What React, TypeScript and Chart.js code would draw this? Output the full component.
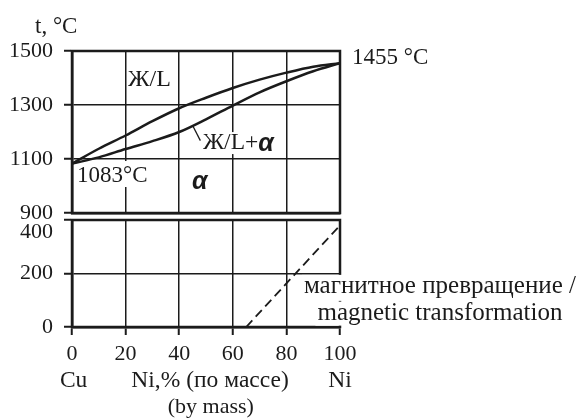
import React, { useEffect, useRef } from 'react';
import { Chart, registerables } from 'chart.js';

Chart.register(...registerables);

// ---- data ----
const niPercent = [0, 10, 20, 30, 40, 50, 60, 70, 80, 90, 100];
const liquidus = [1083, 1138, 1187, 1240, 1288, 1327, 1363, 1394, 1420, 1442, 1455];
const solidus = [1083, 1106, 1137, 1166, 1200, 1247, 1298, 1347, 1388, 1425, 1455];
const magneticNi = [65, 100];
const magneticT = [0, 380];
const xTicks = [0, 20, 40, 60, 80, 100];
const topTicks = [900, 1100, 1300, 1500];
const bottomTicks = [0, 200, 400];

const FONT = "'Liberation Serif', 'Times New Roman', serif";
const ALPHA_FONT = "bold italic 25px 'Liberation Sans', Arial, sans-serif";
const INK = '#1b1b1b';

function textWithBg(ctx: CanvasRenderingContext2D, text: string, x: number, y: number, up: number, down: number) {
  const w = ctx.measureText(text).width;
  const align = ctx.textAlign;
  const left = align === 'center' ? x - w / 2 : x;
  ctx.save();
  ctx.fillStyle = '#ffffff';
  ctx.fillRect(left - 2, y - up, w + 4, up + down);
  ctx.restore();
  ctx.fillText(text, x, y);
}

const topPlugin = {
  id: 'topDecor',
  beforeDatasetsDraw(chart: any) {
    const { ctx, chartArea: a } = chart;
    const X = (v: number) => chart.scales.x.getPixelForValue(v);
    const Y = (v: number) => chart.scales.y.getPixelForValue(v);
    ctx.save();
    ctx.strokeStyle = INK;
    ctx.lineWidth = 2.5;
    ctx.strokeRect(a.left, a.top, a.right - a.left, a.bottom - a.top);

    ctx.fillStyle = INK;
    ctx.textBaseline = 'middle';
    ctx.textAlign = 'left';
    ctx.font = `23px ${FONT}`;
    ctx.fillText('t, °C', X(-13.8), Y(1590));
    ctx.fillText('1455 °C', X(104.5), Y(1474));
    ctx.font = `24px ${FONT}`;
    ctx.fillText('Ж/L', X(20.9), Y(1393));
    ctx.font = `23px ${FONT}`;
    textWithBg(ctx, '1083°C', X(1.9), Y(1037), 15, 11);

    // Ж/L+α label
    const lx = X(48.9), ly = Y(1159);
    const part = 'Ж/L+';
    ctx.font = `23.5px ${FONT}`;
    const pw = ctx.measureText(part).width;
    ctx.font = ALPHA_FONT;
    const aw = ctx.measureText('α').width;
    ctx.save();
    ctx.fillStyle = '#fff';
    ctx.fillRect(lx - 1, ly - 11, pw + aw + 3, 22);
    ctx.restore();
    ctx.font = `23.5px ${FONT}`;
    ctx.fillText(part, lx, ly);
    ctx.font = ALPHA_FONT;
    ctx.fillText('α', lx + pw, ly + 1);
    ctx.fillText('α', X(44.8), Y(1015));

    // leader line
    ctx.beginPath();
    ctx.lineWidth = 1.3;
    ctx.moveTo(X(45.1), Y(1222));
    ctx.lineTo(X(47.9), Y(1168));
    ctx.stroke();
    ctx.restore();
  },
};

const bottomPlugin = {
  id: 'bottomDecor',
  beforeDatasetsDraw(chart: any) {
    const { ctx, chartArea: a } = chart;
    const X = (v: number) => chart.scales.x.getPixelForValue(v);
    const Y = (v: number) => chart.scales.y.getPixelForValue(v);
    ctx.save();
    ctx.strokeStyle = INK;
    ctx.lineWidth = 2.5;
    ctx.strokeRect(a.left, a.top, a.right - a.left, a.bottom - a.top);

    ctx.fillStyle = INK;
    ctx.textBaseline = 'middle';
    ctx.font = `22px ${FONT}`;
    ctx.textAlign = 'right';
    ctx.fillText('400', a.left - 19, Y(400) + 12);

    ctx.textAlign = 'center';
    ctx.font = `25px ${FONT}`;
    textWithBg(ctx, 'магнитное превращение /', X(137.3), Y(150), 12, 14);
    textWithBg(ctx, 'magnetic transformation', X(137.3), Y(50), 12, 12);

    ctx.font = `23.5px ${FONT}`;
    const cy = a.bottom + 54;
    ctx.fillText('Cu', X(0.6), cy);
    ctx.fillText('Ni,% (по массе)', X(51.5), cy);
    ctx.fillText('Ni', X(100), cy);
    ctx.font = `22px ${FONT}`;
    ctx.fillText('(by mass)', X(51.8), cy + 26);
    ctx.restore();
  },
};

const axisY = (min: number, max: number, ticks: number[], hideTop: boolean) => ({
  type: 'linear' as const,
  min,
  max,
  afterBuildTicks: (s: any) => {
    s.ticks = ticks.map((v) => ({ value: v }));
  },
  ticks: {
    font: { family: FONT, size: 22 },
    color: INK,
    padding: 11,
    callback: (v: any) => (hideTop && v === max ? '' : String(v)),
  },
  grid: { color: INK, lineWidth: 1.5, tickLength: 8, tickWidth: 2, tickColor: INK },
  border: { display: true, color: INK, width: 2.5 },
  afterFit: (s: any) => {
    s.width = 72;
  },
});

export default function App() {
  const topRef = useRef<HTMLCanvasElement>(null);
  const botRef = useRef<HTMLCanvasElement>(null);

  useEffect(() => {
    const line = (ys: number[]) => ({
      data: niPercent.map((x, i) => ({ x, y: ys[i] })),
      borderColor: INK,
      borderWidth: 2.5,
      pointRadius: 0,
      tension: 0.4,
      cubicInterpolationMode: 'monotone' as const,
      fill: false,
    });

    const top = new Chart(topRef.current!, {
      type: 'line',
      data: { datasets: [line(liquidus), line(solidus)] as any },
      options: {
        animation: false,
        responsive: false,
        events: [],
        layout: { padding: { left: 0, right: 238, top: 51, bottom: 0 } },
        plugins: { legend: { display: false }, tooltip: { enabled: false } },
        scales: {
          x: {
            type: 'linear',
            min: 0,
            max: 100,
            afterBuildTicks: (s: any) => {
              s.ticks = xTicks.map((v) => ({ value: v }));
            },
            ticks: { display: false },
            grid: { color: INK, lineWidth: 1.5, drawTicks: false },
            border: { display: true, color: INK, width: 2.5 },
            afterFit: (s: any) => {
              s.height = 30;
            },
          },
          y: axisY(900, 1500, topTicks, false),
        },
      } as any,
      plugins: [topPlugin],
    });

    const bottom = new Chart(botRef.current!, {
      type: 'line',
      data: {
        datasets: [
          {
            data: magneticNi.map((x, i) => ({ x, y: magneticT[i] })),
            borderColor: INK,
            borderWidth: 1.8,
            borderDash: [9, 5],
            pointRadius: 0,
            fill: false,
          },
        ] as any,
      },
      options: {
        animation: false,
        responsive: false,
        events: [],
        layout: { padding: { left: 0, right: 238, top: 30, bottom: 0 } },
        plugins: { legend: { display: false }, tooltip: { enabled: false } },
        scales: {
          x: {
            type: 'linear',
            min: 0,
            max: 100,
            afterBuildTicks: (s: any) => {
              s.ticks = xTicks.map((v) => ({ value: v }));
            },
            ticks: { font: { family: FONT, size: 22 }, color: INK, padding: 6, maxRotation: 0 },
            grid: { color: INK, lineWidth: 1.5, tickLength: 8, tickWidth: 2, tickColor: INK },
            border: { display: true, color: INK, width: 2.5 },
            afterFit: (s: any) => {
              s.height = 93;
            },
          },
          y: axisY(0, 400, bottomTicks, true),
        },
      } as any,
      plugins: [bottomPlugin],
    });

    return () => {
      top.destroy();
      bottom.destroy();
    };
  }, []);

  return (
    <div style={{ position: 'absolute', left: 0, top: 0, width: 578, height: 420, background: '#fff' }}>
      <canvas ref={topRef} width={578} height={243} style={{ position: 'absolute', left: 0, top: 0 }} />
      <canvas ref={botRef} width={578} height={230} style={{ position: 'absolute', left: 0, top: 190 }} />
    </div>
  );
}
